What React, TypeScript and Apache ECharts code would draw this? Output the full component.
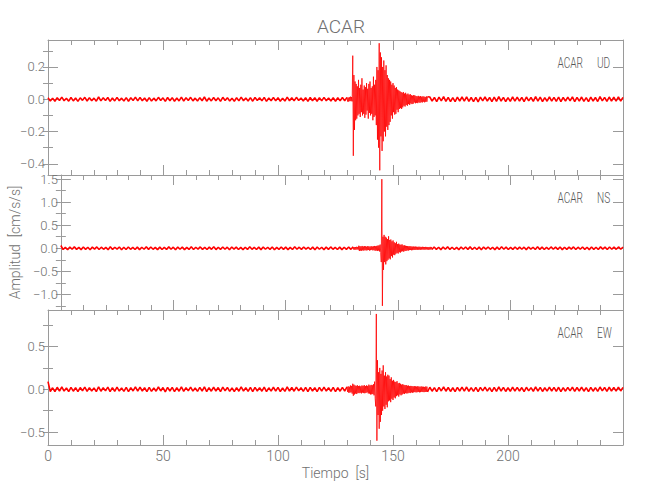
import React, { useEffect, useRef } from "react";
import * as echarts from "echarts";

// ---- data (values in thousandths of cm/s/s) ----
// sampling: pre-event 0..129 s every 1 s, event 130..165 s every 0.25 s, post-event 166..250 s every 1 s
const preStart = 0, preDt = 1;
const evStart = 130, evDt = 0.25;
const postStart = 166, postDt = 1;

const udPre = [
  9,-11,7,-12,10,-8,13,-9,6,-12,11,-10,8,-13,9,-7,12,-11,10,-9,
  7,-12,14,-10,9,-8,11,-13,8,-10,12,-9,7,-11,10,-12,9,-8,13,-10,
  11,-9,8,-12,10,-11,7,-10,12,-8,9,-13,11,-9,10,-12,8,-10,13,-11,
  9,-8,12,-10,7,-11,10,-9,14,-12,8,-10,11,-9,9,-13,12,-8,10,-11,
  7,-12,9,-10,13,-9,8,-11,10,-12,11,-8,9,-10,12,-13,8,-9,11,-10,
  10,-12,7,-11,13,-9,9,-10,12,-8,8,-11,10,-13,11,-9,9,-12,10,-10,
  12,-9,8,-11,10,-12,9,-10,11,-9,
];
const udEvent = [
  12,-14,10,-15,13,-11,16,-12,14,-13,
  270,-350,
  150,-190,110,-130,95,-120,80,-100,120,-90,70,-110,90,-80,130,-100,60,-90,85,-115,
  75,-95,100,-70,65,-120,95,-85,110,-100,70,-90,80,-130,140,-110,90,-100,120,-160,
  200,-250,180,-300,347,-440,290,-230,260,-320,200,-260,240,-200,180,-230,210,-170,150,-190,
  130,-160,120,-140,110,-100,90,-120,100,-80,85,-95,70,-90,75,-65,60,-80,55,-60,
  50,-55,45,-60,40,-50,45,-40,35,-45,40,-35,30,-40,35,-30,28,-35,32,-26,
  25,-30,22,-28,26,-20,24,-25,20,-22,18,-24,21,-19,17,-22,20,-18,16,-20,
  18,-15,17,-19,14,-16,18,-15,16,
];
const udPost = [
  14,-12,11,-15,13,-10,16,-13,12,-14,10,-15,13,-11,14,-12,15,-13,11,-14,
  12,-16,13,-10,14,-12,11,-15,13,-13,16,-11,12,-14,10,-13,15,-12,13,-11,
  12,-15,14,-10,11,-13,16,-12,13,-14,10,-12,15,-11,12,-13,14,-15,11,-12,
  13,-10,15,-14,12,-11,14,-13,10,-15,13,-12,11,-14,16,-10,12,-13,14,-11,
  13,-12,15,-11,12,
];

const nsPre = [
  60,-28,20,-32,27,-22,30,-24,18,-29,26,-25,21,-31,24,-19,29,-27,23,-22,
  19,-30,33,-25,22,-20,28,-31,21,-26,29,-23,18,-27,25,-30,22,-21,31,-24,
  27,-22,20,-29,25,-27,18,-25,30,-21,23,-32,26,-22,24,-29,20,-25,31,-27,
  22,-20,29,-24,18,-27,25,-23,33,-29,21,-25,27,-22,23,-31,28,-20,24,-27,
  19,-29,22,-25,32,-23,20,-27,24,-29,26,-21,22,-24,29,-31,20,-23,27,-25,
  24,-29,18,-27,31,-22,23,-25,28,-20,21,-27,25,-31,26,-22,22,-29,24,-24,
  29,-22,20,-27,25,-29,22,-24,26,-23,
];
const nsEvent = [
  30,-28,25,-33,27,-30,32,-26,29,-31,
  55,-60,45,-50,40,-55,50,-45,38,-52,46,-40,42,-48,35,-44,48,-38,40,-50,
  36,-42,45,-35,38,-46,42,-40,50,-55,44,-48,52,-60,58,-50,62,-70,80,-90,
  -300,1500,-1250,
  250,-470,290,-300,250,-350,230,-280,200,-250,260,-220,180,-240,190,-170,150,-200,170,-140,
  130,-150,110,-120,140,-100,90,-115,100,-85,80,-95,75,-70,85,-65,60,-75,65,-55,
  55,-60,50,-45,48,-52,42,-40,45,-38,40,-44,36,-40,38,-35,34,-38,36,-32,
  33,-35,30,-32,34,-28,31,-33,28,-30,32,-27,29,-31,27,-30,30,-26,28,-29,
  27,-30,25,-28,30,-26,28,-27,
];
const nsPost = [
  27,-24,22,-30,26,-21,31,-25,23,-28,20,-29,26,-22,28,-24,30,-26,21,-27,
  24,-31,26,-20,28,-23,22,-29,25,-26,31,-22,24,-28,20,-25,29,-23,26,-21,
  23,-30,27,-20,22,-26,31,-24,25,-28,20,-23,29,-22,24,-25,27,-30,22,-24,
  25,-20,29,-27,23,-22,28,-25,21,-29,26,-24,22,-27,30,-20,24,-26,27,-22,
  26,-23,29,-21,24,
];

const ewPre = [
  90,-25,18,-28,24,-20,27,-21,16,-26,23,-22,19,-28,21,-17,26,-24,20,-19,
  17,-27,29,-22,19,-18,25,-28,19,-23,26,-20,16,-24,22,-27,20,-19,28,-21,
  24,-20,18,-26,22,-24,16,-22,27,-19,21,-29,23,-20,22,-26,18,-22,28,-24,
  20,-18,26,-21,16,-24,22,-20,29,-26,19,-22,24,-20,21,-28,25,-18,22,-24,
  17,-26,20,-22,28,-21,18,-24,22,-26,23,-19,20,-22,26,-28,18,-21,24,-22,
  22,-26,16,-24,28,-20,21,-22,25,-18,19,-24,22,-28,23,-20,20,-26,22,-22,
  26,-20,18,-24,22,-26,20,-22,23,-21,
];
const ewEvent = [
  28,-30,35,-40,30,-38,45,-35,40,-50,
  65,-75,55,-60,45,-50,40,-55,48,-42,38,-45,42,-40,35,-48,45,-38,40,-44,
  50,-46,38,-42,46,-35,40,-48,55,-50,45,-60,52,-58,48,-55,60,-70,90,-110,
  -200,880,-600,
  340,-300,200,-460,250,-380,180,-300,220,-250,280,-200,160,-230,200,-180,150,-210,170,-140,
  160,-130,120,-150,140,-110,100,-125,110,-95,90,-105,85,-80,95,-70,70,-85,75,-60,
  65,-70,55,-60,60,-50,52,-55,48,-45,50,-48,42,-46,44,-40,38,-44,40,-36,
  38,-40,34,-36,38,-32,35,-36,32,-34,36,-30,33,-35,30,-33,34,-29,31,-32,
  30,-33,28,-31,33,-29,31,-30,
];
const ewPost = [
  24,-22,20,-27,23,-19,28,-22,21,-25,18,-26,23,-20,25,-22,27,-23,19,-24,
  22,-28,23,-18,25,-21,20,-26,22,-23,28,-20,22,-25,18,-23,26,-21,23,-19,
  21,-27,24,-18,20,-23,28,-22,22,-25,18,-21,26,-20,22,-23,24,-27,20,-22,
  22,-18,26,-24,21,-20,25,-22,19,-26,23,-22,20,-24,27,-18,22,-23,24,-20,
  23,-21,26,-19,22,
];

const stationName = "ACAR";
const components = ["UD", "NS", "EW"];
const xRange = [0, 250];
const xTickLabels = [0, 50, 100, 150, 200];
const yRanges = [
  [-0.469, 0.367],
  [-1.34, 1.59],
  [-0.65, 0.926],
];
const yMajor = [
  [-0.4, -0.2, 0.0, 0.2],
  [-1.0, -0.5, 0.0, 0.5, 1.0, 1.5],
  [-0.5, 0.0, 0.5],
];
const yMinor = [
  [-0.4, -0.3, -0.2, -0.1, 0.0, 0.1, 0.2, 0.3],
  [-1.25, -1.0, -0.75, -0.5, -0.25, 0.0, 0.25, 0.5, 0.75, 1.0, 1.25, 1.5],
  [-0.5, -0.25, 0.0, 0.25, 0.5, 0.75],
];

function seg(vals: number[], start: number, dt: number) {
  return vals.map((v, i) => [start + i * dt, v / 1000] as [number, number]);
}

const panels = [
  { pre: udPre, ev: udEvent, post: udPost },
  { pre: nsPre, ev: nsEvent, post: nsPost },
  { pre: ewPre, ev: ewEvent, post: ewPost },
];

const FONT = "Roboto, 'Liberation Sans Narrow', 'DejaVu Sans Condensed', sans-serif";
const AXIS = "#9a9a9a";
const TEXT = "#707070";

const fmt = (v: number) => {
  const s = (Math.abs(v) < 1e-9 ? 0 : v).toFixed(1);
  return s.replace("-", "\u2212");
};

export default function App() {
  const ref = useRef<HTMLDivElement>(null);
  useEffect(() => {
    if (!ref.current) return;
    const chart = echarts.init(ref.current, undefined, { renderer: "svg" });
    const left = 48, width = 575, height = 135;
    const tops = [40, 175, 310];

    const grid = tops.map((t) => ({ left, top: t, width, height, containLabel: false }));

    const xAxis: any[] = [];
    tops.forEach((_, g) => {
      const isBottom = g === 2;
      xAxis.push({
        type: "value", gridIndex: g, position: "bottom", min: xRange[0], max: xRange[1], interval: 50,
        axisLine: { show: true, onZero: false, lineStyle: { color: AXIS, width: 1 } },
        axisTick: { show: true, inside: true, length: 10, lineStyle: { color: AXIS } },
        minorTick: { show: true, splitNumber: 5, length: 5, lineStyle: { color: AXIS } },
        splitLine: { show: false }, minorSplitLine: { show: false },
        axisLabel: {
          show: isBottom, color: TEXT, fontFamily: FONT, fontSize: 14, fontWeight: 300, margin: 4,
          customValues: xTickLabels, formatter: (v: number) => String(v),
        },
        name: isBottom ? "Tiempo  [s]" : "",
        nameLocation: "middle", nameGap: 21,
        nameTextStyle: { color: TEXT, fontFamily: FONT, fontSize: 14, fontWeight: 300 },
      });
      xAxis.push({
        type: "value", gridIndex: g, position: "top", min: xRange[0], max: xRange[1], interval: 50,
        axisLine: { show: true, onZero: false, lineStyle: { color: AXIS, width: 1 } },
        axisTick: { show: true, inside: true, length: 10, lineStyle: { color: AXIS } },
        minorTick: { show: true, splitNumber: 5, length: 5, lineStyle: { color: AXIS } },
        splitLine: { show: false }, axisLabel: { show: false },
      });
    });

    const yAxis: any[] = [];
    tops.forEach((_, g) => {
      const [mn, mx] = yRanges[g];
      const base = {
        type: "value", gridIndex: g, min: mn, max: mx, splitLine: { show: false }, scale: true,
      };
      yAxis.push({
        ...base, position: "left",
        axisLine: { show: true, onZero: false, lineStyle: { color: AXIS } },
        axisTick: { show: true, inside: true, length: 10, customValues: yMajor[g], lineStyle: { color: AXIS } },
        axisLabel: {
          show: true, customValues: yMajor[g], formatter: fmt, color: TEXT, fontFamily: FONT,
          fontSize: 13, fontWeight: 300, margin: 3,
        },
        name: g === 1 ? "Amplitud  [cm/s/s]" : "",
        nameLocation: "middle", nameGap: 29, nameRotate: 90,
        nameTextStyle: { color: TEXT, fontFamily: FONT, fontSize: 14, fontWeight: 300 },
      });
      yAxis.push({
        ...base, position: "left",
        axisLine: { show: false },
        axisTick: { show: true, inside: true, length: 5, customValues: yMinor[g], lineStyle: { color: AXIS } },
        axisLabel: { show: false },
      });
      yAxis.push({
        ...base, position: "right",
        axisLine: { show: true, onZero: false, lineStyle: { color: AXIS } },
        axisTick: { show: true, inside: true, length: 10, customValues: yMajor[g], lineStyle: { color: AXIS } },
        axisLabel: { show: false },
      });
      yAxis.push({
        ...base, position: "right",
        axisLine: { show: false },
        axisTick: { show: true, inside: true, length: 5, customValues: yMinor[g], lineStyle: { color: AXIS } },
        axisLabel: { show: false },
      });
    });

    const series: any[] = [];
    panels.forEach((p, g) => {
      const ev = seg(p.ev, evStart, evDt);
      const pre = seg(p.pre, preStart, preDt).concat([ev[0]]);
      const post = [ev[ev.length - 1]].concat(seg(p.post, postStart, postDt));
      const common = {
        type: "line", xAxisIndex: g * 2, yAxisIndex: g * 4,
        showSymbol: false, symbol: "none", silent: true, clip: true,
      };
      series.push({ ...common, data: pre, lineStyle: { color: "#ff0000", width: 1.6 } });
      series.push({ ...common, data: ev, lineStyle: { color: "#ff0000", width: 0.8 } });
      series.push({ ...common, data: post, lineStyle: { color: "#ff0000", width: 1.6 } });
    });

    const title: any[] = [
      {
        text: stationName, left: 336, top: 12, textAlign: "center",
        textStyle: { color: TEXT, fontFamily: FONT, fontSize: 19, fontWeight: 300 },
      },
    ];

    const graphic: any[] = [];
    tops.forEach((t, g) => {
      graphic.push({
        type: "text", x: 583, y: t + 16, scaleX: 0.72, silent: true,
        style: { text: stationName, fill: "#555555", font: `300 14px ${FONT}`, align: "right", verticalAlign: "top" },
      });
      graphic.push({
        type: "text", x: 597, y: t + 16, scaleX: 0.72, silent: true,
        style: { text: components[g], fill: "#555555", font: `300 14px ${FONT}`, align: "left", verticalAlign: "top" },
      });
    });

    chart.setOption({
      animation: false,
      backgroundColor: "#ffffff",
      title, grid, xAxis, yAxis, series, graphic,
    });
    return () => chart.dispose();
  }, []);
  return (
    <div
      ref={ref}
      style={{ position: "fixed", left: 0, top: 0, width: 650, height: 500 }}
    />
  );
}
